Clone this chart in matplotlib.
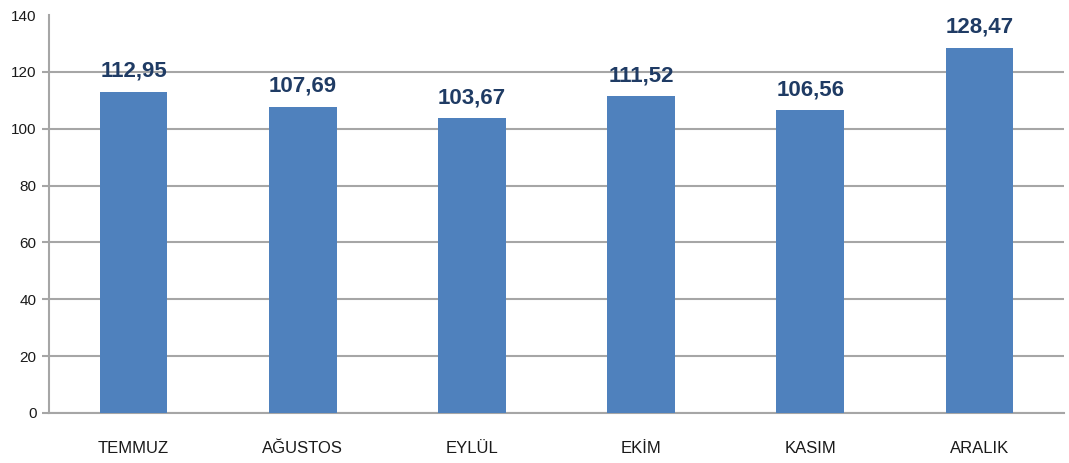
import numpy as np
import matplotlib.pyplot as plt

months = ["TEMMUZ", "AĞUSTOS", "EYLÜL", "EKİM", "KASIM", "ARALIK"]
values = [112.95, 107.69, 103.67, 111.52, 106.56, 128.47]
yticks = [0, 20, 40, 60, 80, 100, 120, 140]

plt.rcParams.update({
    'font.family': ['Liberation Sans Narrow', 'Liberation Sans', 'DejaVu Sans'],
})

fig = plt.figure(figsize=(10.69, 4.63), dpi=100)
ax = fig.add_axes([49 / 1069, 1 - 413 / 463, (1064 - 49) / 1069, (413 - 15) / 463])

x = np.arange(len(months))
ax.bar(x, values, width=0.4, color='#4F81BD', zorder=3)

# value labels above each bar
for xi, v in zip(x, values):
    ax.text(xi, v + 3.5, f"{v:.2f}".replace('.', ','), ha='center', va='bottom',
            fontsize=16, fontweight='bold', color='#1F3B64',
            family=['Liberation Sans', 'DejaVu Sans'], zorder=4)

ax.set_xlim(-0.5, len(months) - 0.5)
ax.set_ylim(0, 140)
ax.set_yticks(yticks)
ax.set_xticks(x)
ax.set_xticklabels(months, fontsize=12, color='#1a1a1a')
ax.tick_params(axis='x', length=0, pad=20)
ax.tick_params(axis='y', length=5, color='#A6A6A6', width=1.5, labelsize=11,
               labelcolor='#1a1a1a', pad=4)
ax.yaxis.grid(True, color='#A6A6A6', linewidth=1.5, zorder=0)

# no line at the top of the scale
ax.get_ygridlines()[-1].set_visible(False)
ax.yaxis.get_major_ticks()[-1].tick1line.set_visible(False)

for side in ['top', 'right']:
    ax.spines[side].set_visible(False)
ax.spines['left'].set_color('#A6A6A6')
ax.spines['left'].set_linewidth(1.5)
ax.spines['bottom'].set_color('#A6A6A6')
ax.spines['bottom'].set_linewidth(1.5)

fig.savefig('out.png', dpi=100)
